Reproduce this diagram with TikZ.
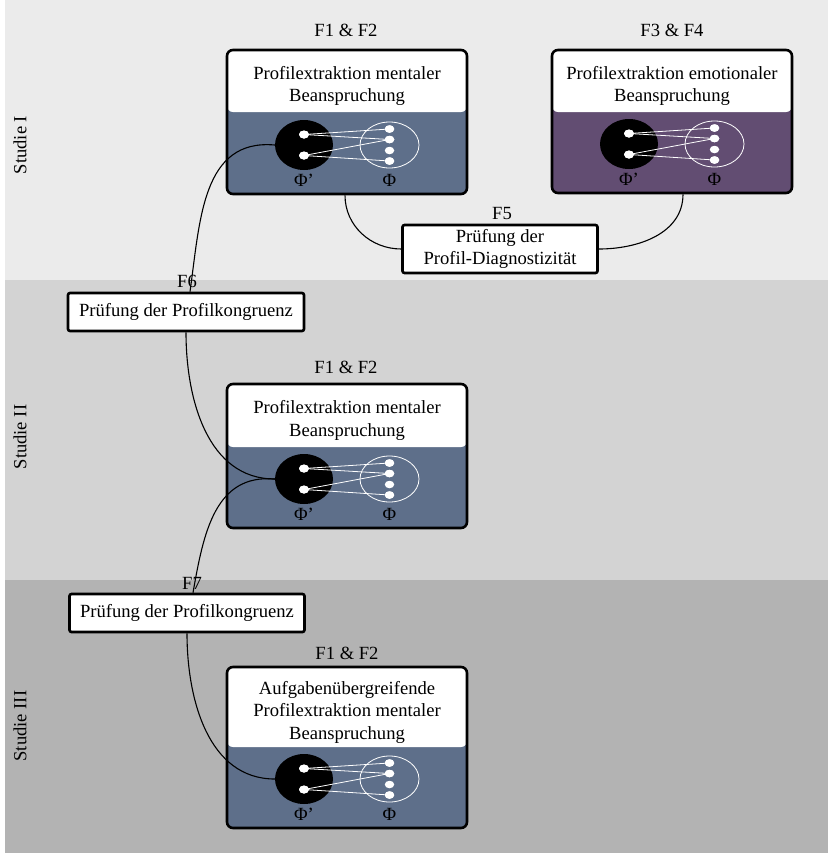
\documentclass[tikz,border=0pt]{standalone}
\usepackage{fontspec}
\setmainfont{Liberation Serif}
\usetikzlibrary{shapes.geometric,calc}
\definecolor{bandA}{HTML}{EBEBEB}
\definecolor{bandB}{HTML}{D3D3D3}
\definecolor{bandC}{HTML}{B3B3B3}
\definecolor{slate}{HTML}{5E6F8A}
\definecolor{plum}{HTML}{624D72}
\tikzset{
  txt/.style={font=\fontsize{18.6}{22.5}\selectfont},
  bigbox/.style={draw=black, line width=2.6, rounded corners=6, minimum width=240, inner sep=0},
  titletxt/.style={txt, align=center, inner sep=0},
  pbox/.style={txt, draw=black, line width=2.6, rounded corners=2, fill=white, inner sep=0, align=center},
  blackc/.style={ellipse, fill=black, minimum width=58, minimum height=50, inner sep=0},
  hollow/.style={ellipse, draw=white, line width=0.8, minimum width=59, minimum height=46, inner sep=0},
  ldot/.style={ellipse, fill=white, minimum width=10, minimum height=8, inner sep=0},
  rdot/.style={ellipse, fill=white, minimum width=9.5, minimum height=7.5, inner sep=0},
  wire/.style={white, line width=0.8},
  conn/.style={black, line width=1.1},
}
% #1 name, #2 centre x, #3 top y, #4 height, #5 white height, #6 colour, #7 title
\newcommand\profbox[7]{%
  \node[bigbox, fill=#6, minimum height=#4,
        path picture={\fill[white] (path picture bounding box.north west) rectangle ([yshift=-#5pt]path picture bounding box.north east);}]
        (#1) at (#2, {#3+#4/2}) {};
  \node[titletxt] (#1t) at (#2, {#3+#5/2+5}) {#7};
  \node[blackc] (#1c) at ({#2-43}, {#3+#4-49}) {};
  \node[hollow] (#1h) at ({#2+42.5}, {#3+#4-49}) {};
  \node[ldot] (#1a) at ($(#1c)+(0,-10.5)$) {};
  \node[ldot] (#1b) at ($(#1c)+(0,10.5)$) {};
  \node[rdot] (#1r1) at ($(#1h)+(0,-16)$) {};
  \node[rdot] (#1r2) at ($(#1h)+(0,-5.5)$) {};
  \node[rdot] (#1r3) at ($(#1h)+(0,5.5)$) {};
  \node[rdot] (#1r4) at ($(#1h)+(0,16)$) {};
  \draw[wire] (#1a.center) -- (#1r1.center);
  \draw[wire] (#1a.center) -- (#1r2.center);
  \draw[wire] (#1b.center) -- (#1r2.center);
  \draw[wire] (#1b.center) -- (#1r4.center);
  \node[ldot] at (#1a) {};
  \node[ldot] at (#1b) {};
  \node[rdot] at (#1r1) {};
  \node[rdot] at (#1r2) {};
  \node[rdot] at (#1r4) {};
  \node[txt] (#1pp) at ($(#1c)+(0,35)$) {Φ’};
  \node[txt] (#1p) at ($(#1h)+(0,35)$) {Φ};
}
\begin{document}
\begin{tikzpicture}[x=1pt,y=-1pt]
\useasboundingbox (0,0) rectangle (828,855);
% bands
\fill[bandA] (5,0) rectangle (828,280);
\fill[bandB] (5,280) rectangle (828,580);
\fill[bandC] (5,580) rectangle (828,853);
\node[txt, rotate=90] (s1) at (20,145) {Studie I};
\node[txt, rotate=90] (s2) at (20,437) {Studie II};
\node[txt, rotate=90] (s3) at (20,726) {Studie III};

% boxes
\profbox{bA}{347}{50}{144}{62}{slate}{Profilextraktion mentaler\\Beanspruchung}
\profbox{bB}{672}{50}{143}{62}{plum}{Profilextraktion emotionaler\\Beanspruchung}
\profbox{bC}{347}{384}{144}{63}{slate}{Profilextraktion mentaler\\Beanspruchung}
\profbox{bD}{347}{667}{161}{80}{slate}{Aufgabenübergreifende\\Profilextraktion mentaler\\Beanspruchung}

\node[txt] (lA) at (346,30) {F1 \& F2};
\node[txt] (lB) at (672,30) {F3 \& F4};
\node[txt] (lC) at (346,367) {F1 \& F2};
\node[txt] (lD) at (347,653) {F1 \& F2};

% check boxes
\node[pbox, minimum width=195, minimum height=48] (f5) at (500,249) {Prüfung der\\Profil-Diagnostizität};
\node[txt] (l5) at (502,213) {F5};
\node[pbox, minimum width=236, minimum height=38] (p6) at (186,312) {Prüfung der Profilkongruenz};
\node[pbox, minimum width=235, minimum height=38] (p7) at (187,613) {Prüfung der Profilkongruenz};

% connectors
\draw[conn] ([xshift=-2]bA.south) to[out=-90, in=180] (f5.west);
\draw[conn] ([xshift=11]bB.south) to[out=-90, in=0] (f5.east);
\draw[conn] (bAc.west) to[out=175, in=82, looseness=1.1] ([xshift=4]p6.north);
\draw[conn] (p6.south) to[out=-90, in=180] (bCc.west);
\draw[conn] (bCc.west) to[out=175, in=80, looseness=1.1] ([xshift=6]p7.north);
\draw[conn] (p7.south) to[out=-90, in=180] (bDc.west);

\node[txt] (l6) at (187,281) {F6};
\node[txt] (l7) at (192,583) {F7};
\end{tikzpicture}
\end{document}
